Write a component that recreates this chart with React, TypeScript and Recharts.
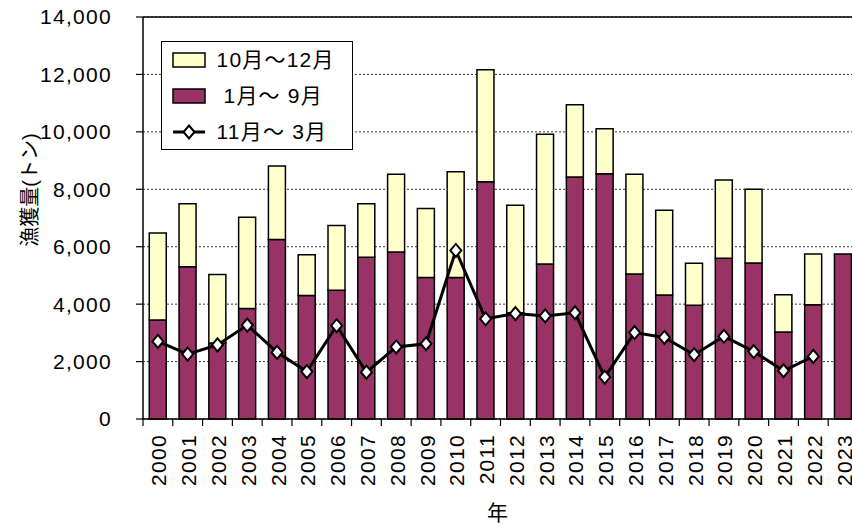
import {
  ComposedChart,
  Bar,
  Line,
  XAxis,
  YAxis,
  CartesianGrid,
  ReferenceLine,
  Legend,
} from "recharts";

// fishing year
const years = [
  "2000", "2001", "2002", "2003", "2004", "2005", "2006", "2007", "2008", "2009", "2010", "2011",
  "2012", "2013", "2014", "2015", "2016", "2017", "2018", "2019", "2020", "2021", "2022", "2023",
];

// catch, tonnes
const janSep = [
  3450, 5300, 2650, 3850, 6250, 4300, 4480, 5630, 5820, 4930, 4930, 8260,
  3700, 5400, 8430, 8540, 5050, 4320, 3960, 5600, 5430, 3030, 3980, 5750,
];
const octDec = [
  3030, 2200, 2380, 3180, 2560, 1420, 2260, 1870, 2700, 2400, 3680, 3900,
  3740, 4520, 2510, 1570, 3470, 2950, 1460, 2720, 2570, 1300, 1770, null,
];
const novMar = [
  2700, 2260, 2580, 3270, 2320, 1650, 3250, 1630, 2510, 2620, 5870, 3490,
  3670, 3590, 3700, 1460, 3010, 2840, 2240, 2880, 2350, 1680, 2180, null,
];

const seriesNames = ["10月～12月", " 1月～ 9月", "11月～ 3月"];
const yTicks = [0, 2000, 4000, 6000, 8000, 10000, 12000, 14000];

const data = years.map((year, i) => ({
  year,
  janSep: janSep[i],
  octDec: octDec[i],
  novMar: novMar[i],
}));

const FONT = "'Liberation Sans', Arial, 'Noto Sans CJK JP', sans-serif";
const MAROON = "#993366";
const CREAM = "#FFFFCC";
const PLOT_W = 715;
const STEP = PLOT_W / years.length;

function YearTick({ x, y, payload, index }: any) {
  const last = index === years.length - 1;
  return (
    <g>
      <line x1={x - STEP / 2} x2={x - STEP / 2} y1={y} y2={y + 7} stroke="#000" strokeWidth={1.2} />
      {last && (
        <line x1={x + STEP / 2} x2={x + STEP / 2} y1={y} y2={y + 7} stroke="#000" strokeWidth={1.2} />
      )}
      <text
        transform={`translate(${x + 1},${y + 15}) rotate(-90)`}
        textAnchor="end"
        dominantBaseline="central"
        fontSize={21}
        fontFamily={FONT}
        style={{ letterSpacing: 1.3 }}
        fill="#000"
      >
        {payload.value}
      </text>
    </g>
  );
}

function Diamond({ cx, cy }: any) {
  if (cx == null || cy == null || isNaN(cy)) return <g />;
  return (
    <polygon
      points={`${cx},${cy - 6.5} ${cx + 5.5},${cy} ${cx},${cy + 6.5} ${cx - 5.5},${cy}`}
      fill="#fff"
      stroke="#000"
      strokeWidth={2}
    />
  );
}

function YTitle(props: any) {
  const vb = props.viewBox || { x: 0, y: 17, width: 143, height: 402 };
  const cx = vb.x + 30;
  const cy = vb.y + vb.height / 2 - 28;
  return (
    <text
      transform={`translate(${cx},${cy}) rotate(-90)`}
      textAnchor="middle"
      dominantBaseline="central"
      fontSize={20}
      fontFamily={FONT}
      fill="#000"
    >
      漁獲量(トン)
    </text>
  );
}

function XTitle(props: any) {
  const vb = props.viewBox || { x: 143, y: 419, width: 715, height: 105 };
  return (
    <text
      x={vb.x + vb.width / 2 - 3}
      y={vb.y + 93}
      textAnchor="middle"
      dominantBaseline="central"
      fontSize={21}
      fontFamily={FONT}
      fill="#000"
    >
      年
    </text>
  );
}

function Swatch({ kind }: { kind: string }) {
  if (kind === "line") {
    return (
      <svg width={34} height={24}>
        <line x1={1} x2={33} y1={12} y2={12} stroke="#000" strokeWidth={3} />
        <Diamond cx={17} cy={12} />
      </svg>
    );
  }
  return (
    <svg width={34} height={24}>
      <rect x={1} y={5} width={32} height={14} fill={kind} stroke="#000" strokeWidth={1.5} />
    </svg>
  );
}

function LegendBox() {
  const rows = [
    { name: seriesNames[0], kind: CREAM },
    { name: seriesNames[1], kind: MAROON },
    { name: seriesNames[2], kind: "line" },
  ];
  return (
    <div
      style={{
        width: 192,
        height: 109,
        border: "1.5px solid #000",
        background: "#fff",
        boxSizing: "border-box",
        position: "relative",
        fontFamily: FONT,
        fontSize: 21,
        color: "#000",
      }}
    >
      {rows.map((r, i) => (
        <div
          key={i}
          style={{
            position: "absolute",
            left: 9.5,
            top: 17.5 + i * 36 - 12,
            height: 24,
            display: "flex",
            alignItems: "center",
            whiteSpace: "pre",
          }}
        >
          <Swatch kind={r.kind} />
          <span style={{ marginLeft: 11, letterSpacing: 1.2, lineHeight: "24px" }}>{r.name}</span>
        </div>
      ))}
    </div>
  );
}

export default function App() {
  return (
    <div
      style={{
        position: "absolute",
        left: 0,
        top: 0,
        width: 852,
        height: 524,
        overflow: "hidden",
        background: "#fff",
      }}
    >
      <ComposedChart
        width={870}
        height={524}
        data={data}
        margin={{ top: 17, right: 12, bottom: 0, left: 0 }}
        barCategoryGap="21%"
      >
        <CartesianGrid
          horizontal
          vertical={false}
          stroke="#000"
          strokeDasharray="2 2"
          strokeWidth={0.8}
        />
        <ReferenceLine y={14000} stroke="#000" strokeWidth={1.5} />
        <XAxis
          dataKey="year"
          height={105}
          tickLine={false}
          tickSize={0}
          tickMargin={0}
          interval={0}
          axisLine={{ stroke: "#000", strokeWidth: 1.5 }}
          tick={<YearTick />}
          label={<XTitle />}
        />
        <YAxis
          width={143}
          domain={[0, 14000]}
          ticks={yTicks}
          interval={0}
          tickSize={7}
          tickMargin={24}
          axisLine={{ stroke: "#000", strokeWidth: 1.5 }}
          tickLine={{ stroke: "#000", strokeWidth: 1.2 }}
          tick={{ fill: "#000", fontSize: 21, fontFamily: FONT, style: { letterSpacing: 1.3 } }}
          tickFormatter={(v: number) => v.toLocaleString("en-US")}
          label={<YTitle />}
        />
        <Legend
          layout="horizontal"
          verticalAlign="middle"
          align="center"
          content={<LegendBox />}
          wrapperStyle={{ left: 161, top: 41, width: 192, height: 109 }}
        />
        <Bar
          dataKey="janSep"
          name={seriesNames[1]}
          stackId="catch"
          fill={MAROON}
          stroke="#000"
          strokeWidth={1.5}
          isAnimationActive={false}
        />
        <Bar
          dataKey="octDec"
          name={seriesNames[0]}
          stackId="catch"
          fill={CREAM}
          stroke="#000"
          strokeWidth={1.5}
          isAnimationActive={false}
        />
        <Line
          dataKey="novMar"
          name={seriesNames[2]}
          type="linear"
          stroke="#000"
          strokeWidth={3}
          dot={(p: any) => <Diamond key={p.index} cx={p.cx} cy={p.cy} />}
          activeDot={false}
          isAnimationActive={false}
        />
      </ComposedChart>
    </div>
  );
}
